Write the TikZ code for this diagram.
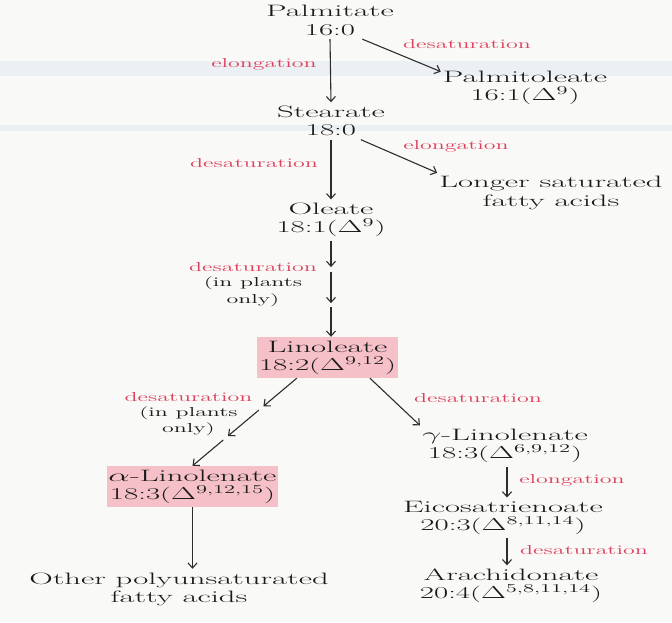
\documentclass[tikz,border=0pt]{standalone}
\usepackage{graphicx}
\usetikzlibrary{arrows.meta,calc}
\definecolor{labred}{RGB}{221,64,92}
\definecolor{boxpink}{RGB}{245,192,200}
\definecolor{ink}{RGB}{45,45,45}
\definecolor{paper}{RGB}{249,249,247}
\definecolor{band}{RGB}{236,240,244}
\newcommand{\sx}[1]{\scalebox{1.98}[1]{#1}}
\newcommand{\sn}[1]{\scalebox{1.87}[1]{#1}}
\newcommand{\slab}[1]{\scalebox{1.84}[1]{#1}}
\begin{document}
\begin{tikzpicture}[x=1pt,y=-1pt,
  txt/.style={font=\fontsize{16.5}{18.2}\selectfont, align=center, inner xsep=2pt, inner ysep=3.5pt, text=black!90},
  pinkbox/.style={txt, fill=boxpink, inner sep=0pt, minimum width=#1, minimum height=41pt},
  lab/.style={font=\fontsize{13}{16}\selectfont, text=labred, inner sep=0pt},
  note/.style={font=\fontsize{13}{16.5}\selectfont, align=center, inner sep=0pt, text=black!90},
  conn/.style={draw=ink, line width=1.1pt, -{Straight Barb[length=5pt,width=9pt]}}]
\useasboundingbox (0,0) rectangle (672,622);
\fill[paper] (0,0) rectangle (672,622);
\fill[band] (0,61) rectangle (672,76);
\fill[band] (0,125) rectangle (672,131);

% nodes
\node[txt] (pal) at (330,20.5) {\sx{Palmitate}\\\sn{16:0}};
\node[txt] (palm) at (525,88) {\sx{Palmitoleate}\\\sn{16:1($\Delta^{9}$)}};
\node[txt] (ste) at (331,121) {\sx{Stearate}\\\sn{18:0}};
\node[txt] (lsfa) at (551,193) {\sx{Longer saturated}\\\sx{fatty acids}};
\node[txt] (ole) at (331,220) {\sx{Oleate}\\\sn{18:1($\Delta^{9}$)}};
\node[pinkbox=141pt] (lin) at (327.5,357.5) {\sx{Linoleate}\\\sn{18:2($\Delta^{9{,}12}$)}};
\node[pinkbox=171pt] (alpha) at (192.5,486.5) {\sx{$\alpha$-Linolenate}\\\sn{18:3($\Delta^{9{,}12{,}15}$)}};
\node[txt] (other) at (179,589) {\sx{Other polyunsaturated}\\\sx{fatty acids}};
\node[txt] (gam) at (505,446) {\sx{$\gamma$-Linolenate}\\\sn{18:3($\Delta^{6{,}9{,}12}$)}};
\node[txt] (eic) at (503,518) {\sx{Eicosatrienoate}\\\sn{20:3($\Delta^{8{,}11{,}14}$)}};
\node[txt] (ara) at (511,586) {\sx{Arachidonate}\\\sn{20:4($\Delta^{5{,}8{,}11{,}14}$)}};

% labels
\node[lab] (l1) at (264,64) {\slab{elongation}};
\node[lab] (l2) at (467,44) {\slab{desaturation}};
\node[lab] (l3) at (254,163) {\slab{desaturation}};
\node[lab] (l4) at (456,146) {\slab{elongation}};
\node[lab] (l5) at (253,267) {\slab{desaturation}};
\node[note] (n5) at (253,291.5) {\slab{(in plants}\\\slab{only)}};
\node[lab] (l6) at (188.5,397) {\slab{desaturation}};
\node[note] (n6) at (188.5,421) {\slab{(in plants}\\\slab{only)}};
\node[lab] (l7) at (478,398) {\slab{desaturation}};
\node[lab] (l8) at (572,480) {\slab{elongation}};
\node[lab] (l9) at (584,550) {\slab{desaturation}};

% connectors
\draw[conn] (pal.south) -- (ste.north);
\draw[conn] (pal.-30) -- (palm.169);
\draw[conn] (ste.south) -- (ole.north);
\draw[conn] (ste.-32) -- (lsfa.north west);

\coordinate (o0) at (ole.south);
\coordinate (o1) at (ole.south |- lin.north);
\draw[conn] (o0) -- ($(o0)!0.275!(o1)$);
\draw[conn] ($(o0)!0.325!(o1)$) -- ($(o0)!0.65!(o1)$);
\draw[conn] ($(o0)!0.69!(o1)$) -- (o1);

\coordinate (a0) at (lin.214);
\coordinate (a1) at (alpha.north);
\draw[conn] (a0) -- ($(a0)!0.32!(a1)$);
\draw[conn] ($(a0)!0.364!(a1)$) -- ($(a0)!0.66!(a1)$);
\draw[conn] ($(a0)!0.705!(a1)$) -- (a1);

\draw[conn] (lin.-26) -- (gam.north west);
\draw[conn] (alpha.south) -- (alpha.south |- other.north);
\coordinate (gx) at (507,0);
\draw[conn] (gx |- gam.south) -- (gx |- eic.north);
\draw[conn] (gx |- eic.south) -- (gx |- ara.north);
\end{tikzpicture}
\end{document}
